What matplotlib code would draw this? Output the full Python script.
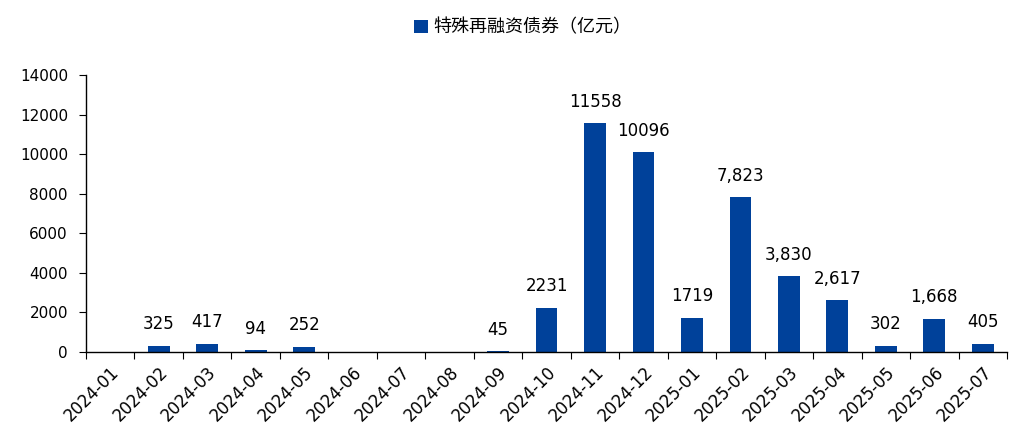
import matplotlib.pyplot as plt
import numpy as np

plt.rcParams['font.family'] = ['DejaVu Sans', 'Noto Sans CJK SC']

# data
months = ['2024-01', '2024-02', '2024-03', '2024-04', '2024-05', '2024-06',
          '2024-07', '2024-08', '2024-09', '2024-10', '2024-11', '2024-12',
          '2025-01', '2025-02', '2025-03', '2025-04', '2025-05', '2025-06',
          '2025-07']
values = [0, 325, 417, 94, 252, 0, 0, 0, 45, 2231, 11558, 10096,
          1719, 7823, 3830, 2617, 302, 1668, 405]
value_labels = ['', '325', '417', '94', '252', '', '', '', '45', '2231',
                '11558', '10096', '1719', '7,823', '3,830', '2,617', '302',
                '1,668', '405']
series_name = '特殊再融资债券（亿元）'

bar_color = '#00419A'

fig = plt.figure(figsize=(10.35, 4.36), dpi=100)
ax = fig.add_axes([0.0831, 0.1927, 0.973 - 0.0831, 0.828 - 0.1927])

x = np.arange(len(months))
bars = ax.bar(x, values, width=0.45, color=bar_color, label=series_name)

for xi, v, lab in zip(x, values, value_labels):
    if lab:
        ax.annotate(lab, (xi, v), xytext=(0, 15.5), textcoords='offset points',
                    ha='center', va='center', fontsize=12, color='black')

ax.set_xlim(-0.5, len(months) - 0.5)
ax.set_ylim(0, 14000)
ax.set_yticks(np.arange(0, 14001, 2000))
ax.tick_params(axis='y', labelsize=11, length=5, direction='out', pad=8)

# ticks at category boundaries, labels at centres
ax.set_xticks(np.arange(-0.5, len(months), 1.0))
ax.set_xticklabels([])
ax.set_xticks(x, minor=True)
ax.set_xticklabels(months, minor=True, rotation=45, ha='right',
                   rotation_mode='anchor', fontsize=12)
ax.tick_params(axis='x', which='major', length=5, direction='out')
ax.tick_params(axis='x', which='minor', length=0, pad=8)

for s in ['top', 'right']:
    ax.spines[s].set_visible(False)
for s in ['left', 'bottom']:
    ax.spines[s].set_color('black')
    ax.spines[s].set_linewidth(1.0)

fig.legend(loc='upper center', bbox_to_anchor=(0.505, 0.995), frameon=False,
           prop={'family': ['Noto Sans CJK SC', 'DejaVu Sans'], 'size': 13},
           handlelength=0.75, handleheight=0.75, handletextpad=0.3)

fig.savefig('out.png', dpi=100)
